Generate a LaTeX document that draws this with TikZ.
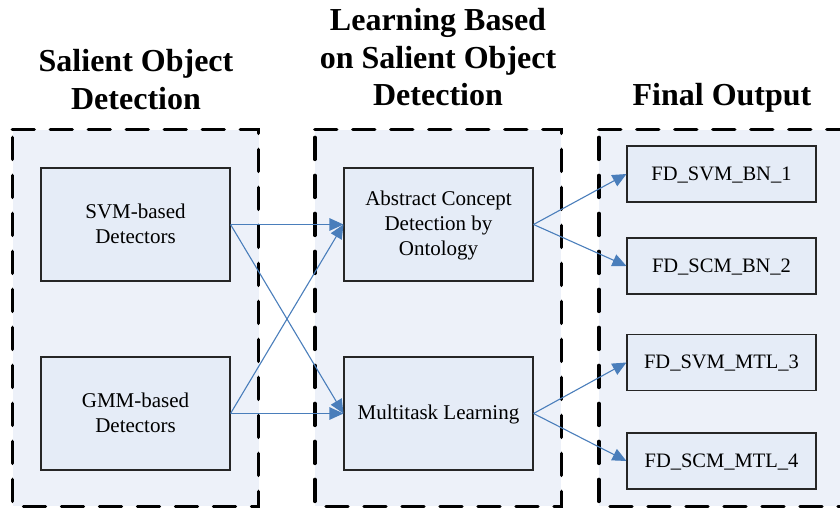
\documentclass[tikz,border=0pt]{standalone}
\usepackage{fontspec}
\setmainfont{Liberation Serif}
\usetikzlibrary{arrows.meta}
\definecolor{panelfill}{RGB}{237,241,249}
\definecolor{boxfill}{RGB}{229,236,247}
\definecolor{arrowblue}{RGB}{74,126,187}
\newcommand{\bstrut}{\rule[-5pt]{0pt}{22pt}}
\newcommand{\tstrut}{\rule[-8pt]{0pt}{32pt}}
\begin{document}
\begin{tikzpicture}[x=1pt,y=-1pt,
  panel/.style={fill=panelfill, minimum width=246, minimum height=376, inner sep=0pt},
  panelborder/.style={draw=black, line width=3.4pt, dash pattern=on 22pt off 16pt, line cap=round},
  procbox/.style={draw=black!85, fill=boxfill, line width=1.1pt, minimum width=189, minimum height=113, inner sep=0pt, align=center, font=\fontsize{21}{25}\selectfont},
  outbox/.style={draw=black!85, fill=boxfill, line width=1.1pt, minimum width=189, minimum height=56, inner sep=0pt, align=center, font=\fontsize{20.5}{25}\selectfont},
  title/.style={align=center, inner sep=0pt, font=\fontsize{32}{37.5}\selectfont\bfseries},
  arr/.style={draw=arrowblue, line width=1.1pt, -{Triangle[length=14pt,width=12.5pt]}}
]
\useasboundingbox (0,0) rectangle (840,508);
\clip (0,0) rectangle (840,508);

% panels
\node[panel] (p1) at (135.5,318) {};
\node[panel] (p2) at (438,318) {};
\node[panel] (p3) at (722,318) {};
\foreach \p in {p1,p2,p3}
  \draw[panelborder] (\p.north west) -- (\p.north east) -- (\p.south east) -- (\p.south west) -- cycle;

% titles
\node[title] (t1) at (136,82.5) {\tstrut Salient Object\\\tstrut Detection};
\node[title] (t2) at (438,60.5) {\tstrut Learning Based\\\tstrut on Salient Object\\\tstrut Detection};
\node[title] (t3) at (722,98) {\tstrut Final Output};

% boxes
\node[procbox] (svm) at (135.5,224.5) {\bstrut SVM-based\\\bstrut Detectors};
\node[procbox] (gmm) at (135.5,413.5) {\bstrut GMM-based\\\bstrut Detectors};
\node[procbox] (abs) at (438.5,224.5) {\bstrut Abstract Concept\\\bstrut Detection by\\\bstrut Ontology};
\node[procbox] (mtl) at (438.5,413.5) {\bstrut Multitask Learning};

\node[outbox] (o1) at (721.5,174) {\bstrut FD\_SVM\_BN\_1};
\node[outbox] (o2) at (721.5,266) {\bstrut FD\_SCM\_BN\_2};
\node[outbox] (o3) at (721.5,362.5) {\bstrut FD\_SVM\_MTL\_3};
\node[outbox] (o4) at (721.5,461) {\bstrut FD\_SCM\_MTL\_4};

% connectors
\draw[arr] (svm.east) -- (abs.west);
\draw[arr] (svm.east) -- (mtl.west);
\draw[arr] (gmm.east) -- (abs.west);
\draw[arr] (gmm.east) -- (mtl.west);
\draw[arr] (abs.east) -- (o1.west);
\draw[arr] (abs.east) -- (o2.west);
\draw[arr] (mtl.east) -- (o3.west);
\draw[arr] (mtl.east) -- (o4.west);
\end{tikzpicture}
\end{document}
